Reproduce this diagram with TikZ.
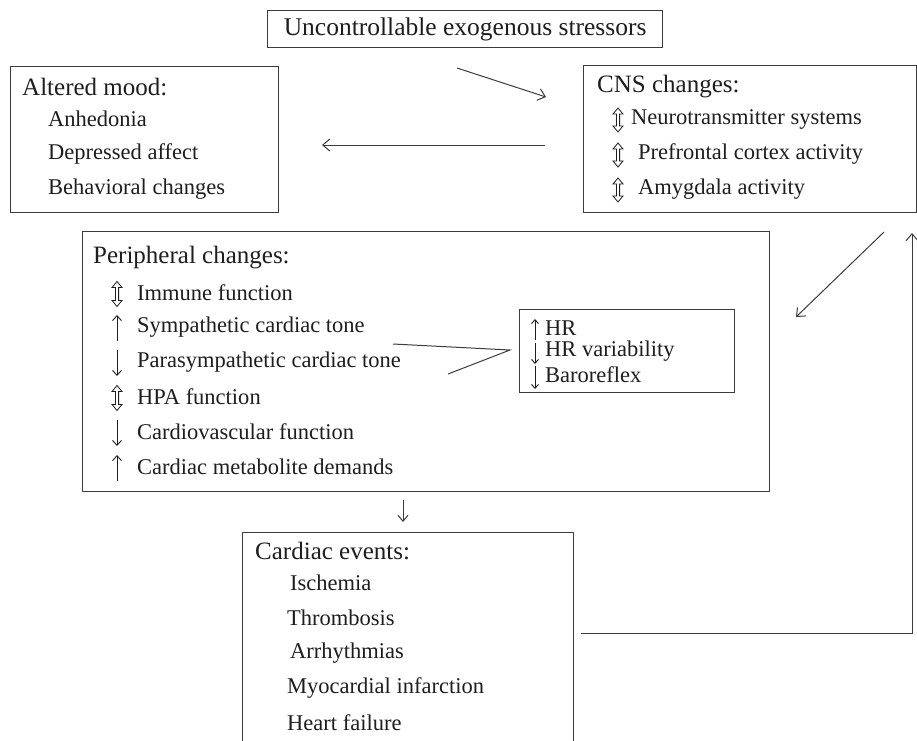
\documentclass[tikz,border=0pt]{standalone}
\usepackage{fontspec}
\setmainfont{Liberation Serif}
\usetikzlibrary{arrows.meta}
\definecolor{ink}{HTML}{1E1E1E}
\definecolor{edge}{HTML}{3C3C3C}
% glyph arrows drawn with TikZ: x, y (centre), half height
\newcommand\gup[3]{\draw[gly] (#1,#2+#3) -- (#1,#2-#3);}
\newcommand\gdn[3]{\draw[gly] (#1,#2-#3) -- (#1,#2+#3);}
\newcommand\gud[3]{\draw[glyo] (#1,#2-#3) -- (#1+5,#2-#3+6) -- (#1+1.6,#2-#3+6) -- (#1+1.6,#2+#3-6) -- (#1+5,#2+#3-6) -- (#1,#2+#3) -- (#1-5,#2+#3-6) -- (#1-1.6,#2+#3-6) -- (#1-1.6,#2-#3+6) -- (#1-5,#2-#3+6) -- cycle;}
\newcommand\itemrow[5]{#4 \node[txt] (#1) at (#2,#3) {#5};}
\begin{document}
\begin{tikzpicture}[x=1pt,y=-1pt,
  box/.style={draw=edge,line width=1.2pt,anchor=north west,inner sep=0pt},
  txt/.style={anchor=west,inner sep=0pt,text=ink,font=\fontsize{22.5}{27}\selectfont},
  ttl/.style={anchor=west,inner sep=0pt,text=ink,font=\fontsize{25}{30}\selectfont},
  conn/.style={draw=edge,line width=1pt},
  gly/.style={draw=ink,line width=0.9pt,-{Straight Barb[length=5pt,width=9pt]}},
  glys/.style={gly,-{Straight Barb[length=4pt,width=7pt]}},
  glyo/.style={draw=ink,line width=0.8pt,line join=miter},
  arr/.style={conn,-{Straight Barb[length=7pt,width=12pt]}},
  sarr/.style={conn,-{Straight Barb[length=6pt,width=10pt]}}
]
\clip (0,0) rectangle (917,740);
\fill[white] (0,0) rectangle (917,740);

% top box
\node[box,minimum width=395pt,minimum height=37pt] (top) at (267,10) {};
\node[inner sep=0pt,text=ink,font=\fontsize{25.5}{30}\selectfont] (toptxt) at (top.center) {Uncontrollable exogenous stressors};

% altered mood
\node[box,minimum width=268pt,minimum height=146pt] (mood) at (10,66) {};
\node[ttl] (moodt) at (22,87) {Altered mood:};
\node[txt] (m1) at (48,119) {Anhedonia};
\node[txt] (m2) at (48,154) {Depressed affect};
\node[txt] (m3) at (48,189) {Behavioral changes};

% CNS
\node[box,minimum width=333pt,minimum height=147pt] (cns) at (583,65) {};
\node[ttl] (cnst) at (597,87) {CNS changes:};
\itemrow{c1}{631}{119}{\gud{618}{120}{12}}{Neurotransmitter systems}
\itemrow{c2}{638}{154}{\gud{618}{155}{12}}{Prefrontal cortex activity}
\itemrow{c3}{638}{189}{\gud{618}{190}{12}}{Amygdala activity}

% peripheral
\node[box,minimum width=687pt,minimum height=260pt] (per) at (82,231) {};
\node[ttl] (pert) at (93,258) {Peripheral changes:};
\itemrow{p1}{137}{293}{\gud{117}{294}{12.5}}{Immune function}
\itemrow{p2}{137}{327}{\gup{117}{328}{13}}{Sympathetic cardiac tone}
\itemrow{p3}{137}{362}{\gdn{117}{363}{13}}{Parasympathetic cardiac tone}
\itemrow{p4}{137}{397}{\gud{117}{398}{12.5}}{HPA function}
\itemrow{p5}{137}{432}{\gdn{117}{433}{13}}{Cardiovascular function}
\itemrow{p6}{137}{467}{\gup{117}{468}{13}}{Cardiac metabolite demands}

% HR box
\node[box,minimum width=215pt,minimum height=83pt] (hr) at (519,309) {};
\itemrow{h1}{545}{328}{\draw[glys] (535,340) -- (535,319);}{HR}
\itemrow{h2}{545}{351}{\draw[glys] (535,343) -- (535,364);}{HR variability}
\itemrow{h3}{545}{375}{\draw[glys] (535,366) -- (535,389);}{Baroreflex}

% cardiac events
\node[box,minimum width=331pt,minimum height=240pt] (card) at (242,532) {};
\node[ttl] (cardt) at (255,551) {Cardiac events:};
\node[txt] (e1) at (290,583) {Ischemia};
\node[txt] (e2) at (287,618) {Thrombosis};
\node[txt] (e3) at (290,653) {Arrhythmias};
\node[txt] (e4) at (287,688) {Myocardial infarction};
\node[txt] (e5) at (287,723) {Heart failure};

% connectors
\coordinate (s1) at (457,68); \coordinate (s2) at (546,97);
\draw[arr] (s1) -- (s2);
\coordinate (a1) at (545,145); \coordinate (a2) at (322,145);
\draw[arr] (a1) -- (a2);
\coordinate (d1) at (884,232); \coordinate (d2) at (796,317);
\draw[arr] (d1) -- (d2);
\coordinate (f1) at (581,633); \coordinate (f2) at (912,633); \coordinate (f3) at (912,233);
\draw[arr] (f1) -- (f2) -- (f3);
\coordinate (l1) at (393,344); \coordinate (lj) at (510,350); \coordinate (l2) at (448,374);
\draw[conn] (l1) -- (lj) -- (l2);
\coordinate (v1) at (403,500); \coordinate (v2) at (403,522);
\draw[sarr] (v1) -- (v2);
\end{tikzpicture}
\end{document}
